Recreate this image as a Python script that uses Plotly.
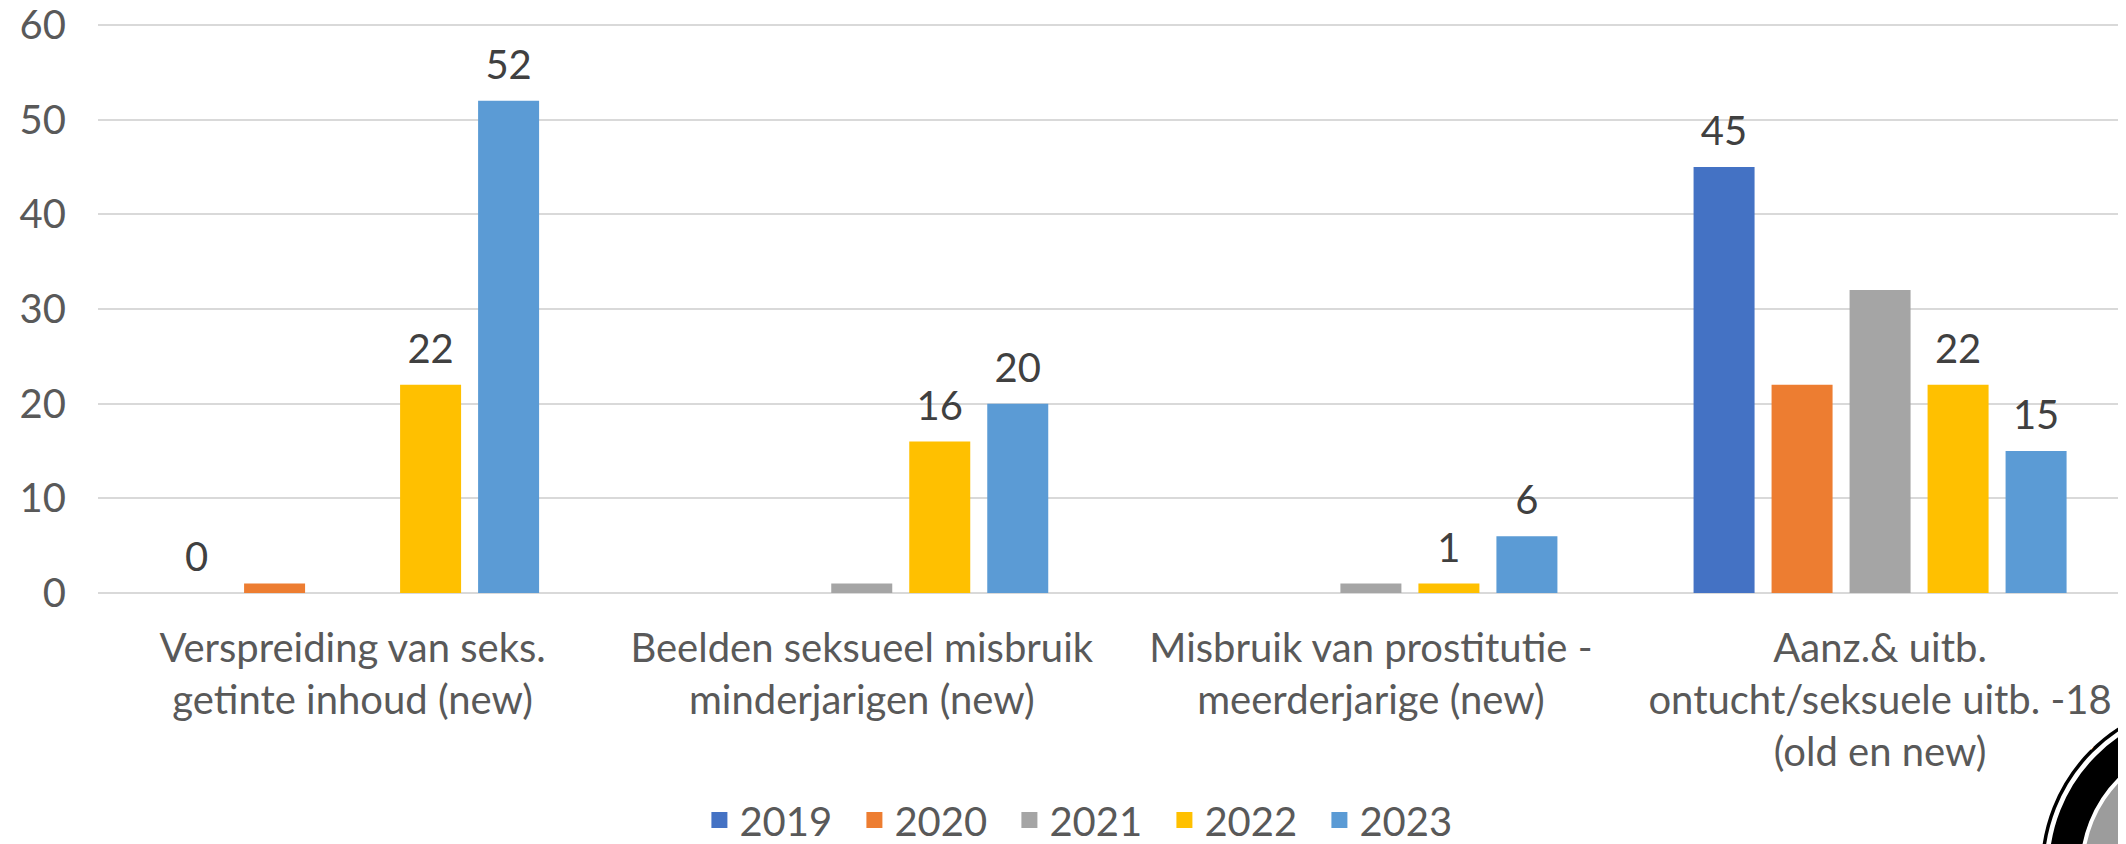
import plotly.graph_objects as go

categories = [
    "Verspreiding van seks.<br>getinte inhoud (new)",
    "Beelden seksueel misbruik<br>minderjarigen (new)",
    "Misbruik van prostitutie -<br>meerderjarige (new)",
    "Aanz.& uitb.<br>ontucht/seksuele uitb. -18<br>(old en new)",
]
years = ["2019", "2020", "2021", "2022", "2023"]
v2019 = [0, None, None, 45]
v2020 = [1, None, None, 22]
v2021 = [None, 1, 1, 32]
v2022 = [22, 16, 1, 22]
v2023 = [52, 20, 6, 15]
# which bars carry a data label in the original
lab2019 = [True, False, False, True]
lab2020 = [False, False, False, False]
lab2021 = [False, False, False, False]
lab2022 = [True, True, True, True]
lab2023 = [True, True, True, True]

colors = ["#4472C4", "#ED7D31", "#A5A5A5", "#FFC000", "#5B9BD5"]
series = [v2019, v2020, v2021, v2022, v2023]
labels = [lab2019, lab2020, lab2021, lab2022, lab2023]

FONT = "Lato"
FS = 40
YMAX = 60.2
LABEL_LIFT = 1.05  # data labels sit a bit higher above the bars, like Excel

fig = go.Figure()
for name, vals, col in zip(years, series, colors):
    fig.add_trace(go.Bar(
        x=categories, y=vals, name=name, showlegend=False,
        marker=dict(color=col, line=dict(width=0)), hoverinfo="skip",
    ))
# data labels: transparent copies of the bars on a slightly shifted overlay axis
for name, vals, lab in zip(years, series, labels):
    txt = [str(v) if (show and v is not None) else "" for v, show in zip(vals, lab)]
    fig.add_trace(go.Bar(
        x=categories, y=vals, name=name, showlegend=False, yaxis="y2",
        marker=dict(color="rgba(0,0,0,0)", line=dict(width=0)),
        text=txt, textposition="outside", cliponaxis=False,
        textfont=dict(family=FONT, size=FS, color="#404040"),
        hoverinfo="skip",
    ))
# legend entries with bigger square swatches
for name, col in zip(years, colors):
    fig.add_trace(go.Scatter(x=[None], y=[None], mode="markers", name=name,
                             marker=dict(symbol="square", size=16, color=col)))

# badge logo partly visible in the lower right corner
cx, cy = 84, -276.5
def ring(r, **kw):
    return dict(type="circle", xref="paper", yref="paper", xsizemode="pixel", ysizemode="pixel",
                xanchor=1, yanchor=0, x0=cx - r, x1=cx + r, y0=cy - r, y1=cy + r, **kw)

shapes = [
    ring(126, fillcolor="#9c9c9c", line=dict(width=0)),
    ring(145.5, fillcolor="rgba(0,0,0,0)", line=dict(color="black", width=31)),
    ring(167.5, fillcolor="rgba(0,0,0,0)", line=dict(color="black", width=3.5)),
]

# page body has an 8px margin, so the figure is made 8px smaller and offsets adjusted
fig.update_layout(
    width=2118, height=836,
    paper_bgcolor="white", plot_bgcolor="white",
    margin=dict(l=90, r=0, t=15.1, b=250.5, autoexpand=False),
    barmode="group", bargap=0.234, bargroupgap=0.218,
    font=dict(family=FONT, size=FS, color="#595959"),
    showlegend=True,
    legend=dict(orientation="h", xref="container", yref="container",
                x=0.5094, y=0.0287, xanchor="center", yanchor="middle",
                font=dict(family=FONT, size=FS, color="#595959"),
                entrywidth=110, entrywidthmode="pixels", traceorder="normal",
                itemclick=False, itemdoubleclick=False),
    shapes=shapes,
    annotations=[dict(text="<b>PO</b>", xref="paper", yref="paper", x=0.997, y=-0.29,
                      showarrow=False, textangle=-52,
                      font=dict(family=FONT, size=26, color="white"))],
    yaxis2=dict(overlaying="y", range=[-LABEL_LIFT, YMAX - LABEL_LIFT], visible=False),
)
fig.update_xaxes(range=[-0.5, 3.483], showgrid=False, showline=False, ticks="", automargin=False,
                 tickfont=dict(family=FONT, size=FS, color="#595959"), ticklabelstandoff=28)
fig.update_layout(yaxis=dict(range=[0, YMAX], tickvals=[0, 10, 20, 30, 40, 50, 60], automargin=False,
                             showgrid=True, gridcolor="#D9D9D9", gridwidth=2,
                             zeroline=True, zerolinecolor="#D9D9D9", zerolinewidth=2, showline=False,
                             ticks="", tickfont=dict(family=FONT, size=FS, color="#595959"),
                             ticklabelstandoff=31, ticklabeloverflow="allow"))

fig.write_html("out.html")
